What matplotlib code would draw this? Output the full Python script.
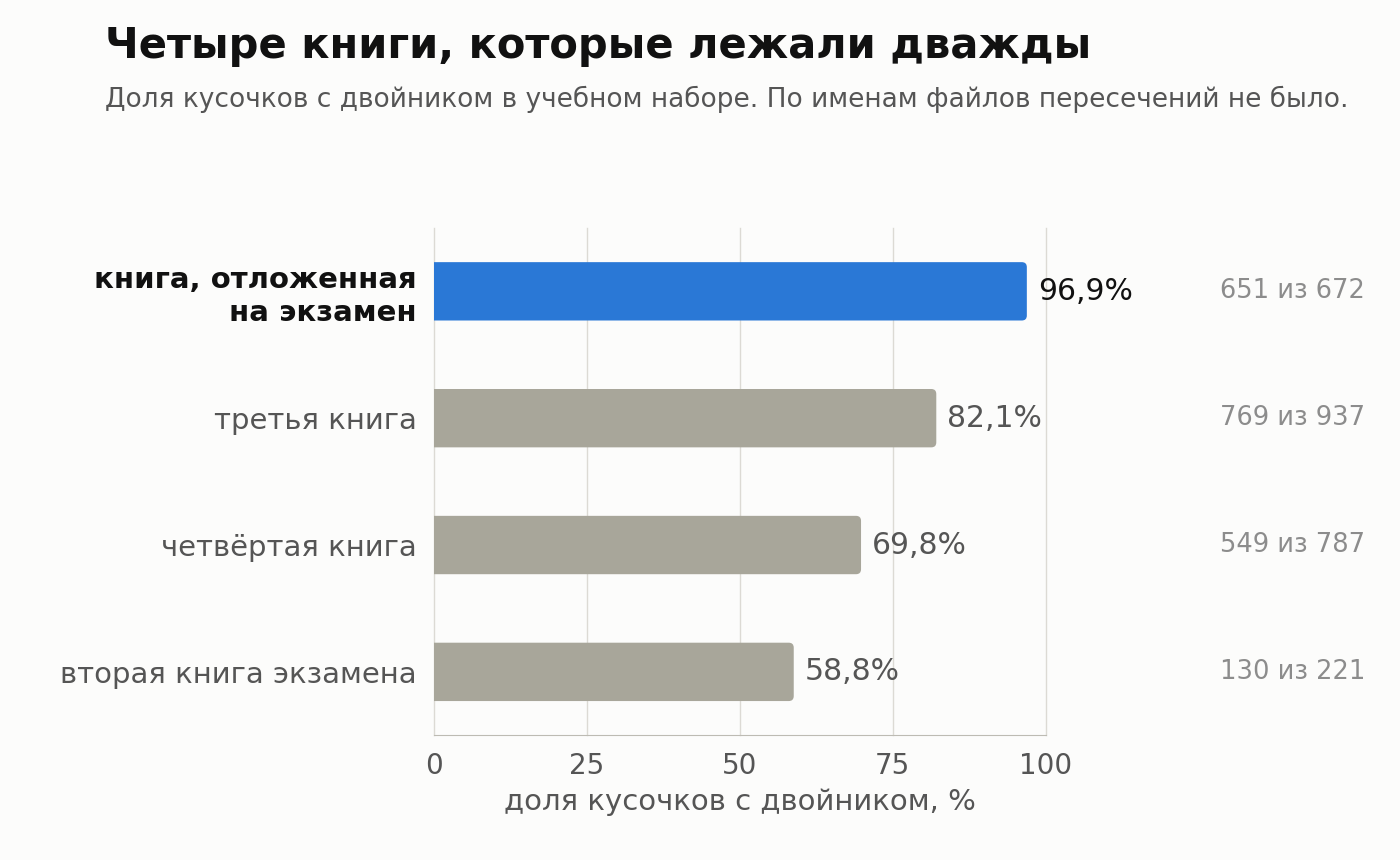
import matplotlib.pyplot as plt
from matplotlib.patches import FancyBboxPatch
from matplotlib.transforms import blended_transform_factory

# data, top to bottom
labels = ['книга, отложенная\nна экзамен', 'третья книга', 'четвёртая книга', 'вторая книга экзамена']
shares = [96.9, 82.1, 69.8, 58.8]
counts = ['651 из 672', '769 из 937', '549 из 787', '130 из 221']
highlight = 0

BG = '#fcfcfb'
BLUE = '#2a78d6'
GREY = '#a8a69a'

fig = plt.figure(figsize=(14, 8.6), dpi=100, facecolor=BG)
ax = fig.add_axes([0.31, 0.145, 0.437, 0.59], facecolor=BG)

n = len(labels)
ys = list(range(n))
ax.set_xlim(0, 100)
ax.set_ylim(n - 0.5, -0.5)

# rounded bars: rounding in x units, aspect corrected for y
bar_h = 0.46
x_per_px = 100 / (0.437 * 1400)
y_per_px = n / (0.59 * 860)
for i, (y, v) in enumerate(zip(ys, shares)):
    col = BLUE if i == highlight else GREY
    p = FancyBboxPatch((-3, y - bar_h / 2), v + 3, bar_h,
                       boxstyle='round,pad=0,rounding_size=%f' % (5 * x_per_px),
                       mutation_aspect=y_per_px / x_per_px,
                       fc=col, ec='none', zorder=3)
    ax.add_patch(p)
    ax.text(v + 1.8, y, f'{v:.1f}%'.replace('.', ','), va='center', ha='left',
            fontsize=21.5, color='#111111' if i == highlight else '#555555', zorder=4)

tr = blended_transform_factory(fig.transFigure, ax.transData)
for y, c in zip(ys, counts):
    ax.text(0.975, y, c, transform=tr, ha='right', va='center', fontsize=18.5, color='#8c8c8c')

ax.set_yticks(ys)
ax.set_yticklabels(labels, fontsize=21, color='#555555', linespacing=1.2)
tl = ax.get_yticklabels()[highlight]
tl.set_fontweight('bold')
tl.set_color('#111111')
ax.tick_params(axis='y', length=0, pad=12.5)

ax.set_xticks([0, 25, 50, 75, 100])
ax.tick_params(axis='x', length=0, labelsize=20, labelcolor='#555555', pad=12)
ax.set_xlabel('доля кусочков с двойником, %', fontsize=21, color='#555555', labelpad=6)

ax.grid(axis='x', color='#dcdad4', lw=1, zorder=0)
for gl in ax.get_xgridlines():
    gl.set_clip_on(False)
for s in ['top', 'right', 'left']:
    ax.spines[s].set_visible(False)
ax.spines['bottom'].set_color('#bdbbb3')

fig.text(0.075, 0.947, 'Четыре книги, которые лежали дважды', fontsize=30, fontweight='bold',
         color='#111111', va='center')
fig.text(0.075, 0.884, 'Доля кусочков с двойником в учебном наборе. По именам файлов пересечений не было.',
         fontsize=19, color='#555555', va='center')

fig.savefig('out.png', dpi=100, facecolor=BG)
